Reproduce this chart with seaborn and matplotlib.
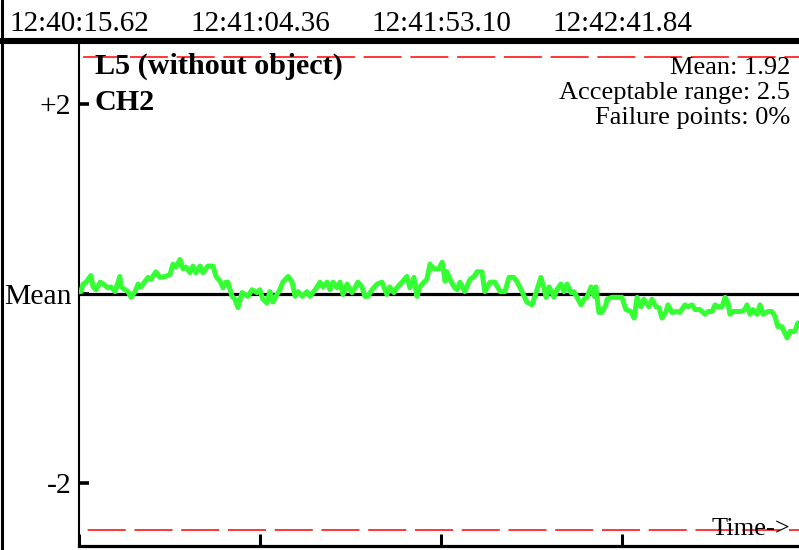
"""
Channel drift plot: deviation of CH2 from its mean over time, with the
acceptable range drawn as red dashed limits.
"""

import matplotlib.pyplot as plt
from matplotlib.lines import Line2D
import seaborn as sns
import pandas as pd

# ---- data (seconds since 12:40:15.62, deviation from mean) ----
times = [
    0.0, 0.5, 1.1, 1.9, 3.2, 3.8, 4.6, 5.7, 6.5, 7.8, 8.6, 9.7, 11.0, 11.3,
    12.4, 13.2, 14.0, 15.1, 15.9, 16.7, 17.8, 18.6, 19.4, 20.7, 21.8, 23.2,
    24.5, 25.3, 26.1, 27.2, 28.0, 28.8, 29.9, 30.7, 31.5, 32.6, 33.4, 34.7,
    36.1, 36.9, 38.0, 38.8, 39.6, 40.1, 41.2, 42.0, 42.8, 43.9, 44.7, 45.5,
    46.6, 47.9, 48.7, 49.5, 50.6, 51.4, 52.2, 53.3, 54.1, 54.9, 56.3, 57.4,
    58.2, 59.0, 60.1, 61.4, 62.2, 63.6, 64.9, 65.7, 66.8, 67.6, 68.4, 69.5,
    70.3, 71.1, 72.2, 73.5, 74.3, 75.1, 76.2, 77.0, 77.8, 78.9, 80.3, 81.6,
    82.9, 83.7, 84.8, 85.6, 87.0, 88.3, 89.1, 90.2, 91.0, 91.8, 92.9, 93.7,
    94.5, 95.6, 96.9, 97.8, 98.6, 99.1, 99.9, 101.0, 101.8, 102.6, 103.9,
    105.3, 106.4, 107.2, 108.5, 109.3, 110.7, 112.0, 113.4, 114.7, 115.8,
    117.1, 117.9, 119.3, 120.6, 122.0, 123.1, 124.4, 125.2, 125.8, 126.6,
    127.4, 127.9, 128.7, 129.8, 130.6, 131.4, 132.5, 133.3, 134.1, 135.2,
    136.0, 136.8, 137.9, 138.7, 139.2, 140.0, 140.8, 141.9, 142.2, 143.5,
    146.2, 147.3, 148.6, 149.5, 150.3, 151.3, 152.1, 153.5, 154.3, 155.4,
    156.2, 157.0, 158.1, 158.6, 159.7, 161.0, 161.8, 163.2, 164.0, 165.1,
    165.9, 167.2, 168.6, 169.4, 170.5, 171.3, 172.1, 173.2, 174.0, 174.8,
    175.3, 176.1, 178.5, 179.3, 179.9, 180.7, 181.5, 182.6, 183.4, 184.2,
    185.5, 186.6, 187.4, 188.2, 189.3, 190.7, 191.5, 192.8, 193.6,
]
deviation = [
    0.02, 0.02, 0.10, 0.12, 0.19, 0.07, 0.04, 0.12, 0.10, 0.06, 0.07, 0.02,
    0.18, 0.07, 0.04, 0.02, -0.04, 0.02, 0.10, 0.07, 0.13, 0.17, 0.15, 0.23,
    0.17, 0.18, 0.20, 0.31, 0.28, 0.36, 0.26, 0.28, 0.22, 0.29, 0.22, 0.29,
    0.22, 0.29, 0.29, 0.18, 0.13, 0.06, 0.12, 0.12, -0.03, -0.06, -0.15, 0.01,
    -0.01, -0.03, 0.04, 0.01, 0.04, -0.06, -0.10, 0.02, -0.09, -0.01, 0.04,
    0.12, 0.18, 0.12, -0.03, 0.02, -0.03, 0.02, -0.03, 0.04, 0.12, 0.07, 0.12,
    0.04, 0.12, 0.06, 0.12, -0.01, 0.10, 0.01, 0.06, 0.12, 0.07, -0.03, -0.03,
    0.04, 0.10, 0.12, -0.01, 0.07, 0.01, 0.06, 0.12, 0.18, 0.06, 0.17, -0.03,
    0.07, 0.12, 0.15, 0.31, 0.26, 0.26, 0.33, 0.13, 0.23, 0.15, 0.07, 0.04,
    0.12, 0.02, 0.15, 0.18, 0.23, 0.23, 0.02, 0.12, 0.12, 0.02, 0.02, 0.17,
    0.17, 0.13, 0.02, -0.09, -0.12, 0.01, 0.17, 0.06, -0.04, 0.07, 0.01, -0.04,
    0.04, 0.10, 0.02, 0.10, 0.01, 0.02, -0.04, -0.12, -0.06, -0.04, 0.07,
    -0.03, 0.07, -0.20, -0.20, -0.12, -0.06, -0.04, -0.04, -0.17, -0.19,
    -0.26, -0.04, -0.14, -0.06, -0.14, -0.06, -0.14, -0.15, -0.26, -0.19,
    -0.12, -0.20, -0.19, -0.20, -0.12, -0.14, -0.12, -0.17, -0.17, -0.22,
    -0.19, -0.19, -0.12, -0.14, -0.14, -0.04, -0.10, -0.22, -0.19, -0.19,
    -0.17, -0.12, -0.22, -0.17, -0.22, -0.12, -0.22, -0.19, -0.19, -0.24,
    -0.35, -0.35, -0.47, -0.40, -0.40, -0.31,
]

tick_times = [0, 48.74, 97.48, 146.22]
tick_stamps = ["12:40:15.62", "12:41:04.36", "12:41:53.10", "12:42:41.84"]
y_ticks = [-2, 0, 2]
y_labels = ["-2", "Mean", "+2"]

mean_value = 1.92
accept_range = 2.5
failure_pct = 0
title = "L5 (without object)"
channel = "CH2"

df = pd.DataFrame({"t": times, "dev": deviation})

sns.set_theme(style="white")
plt.rcParams["font.family"] = ["Liberation Serif", "DejaVu Serif"]
for key in ["text.color", "axes.labelcolor", "xtick.color", "ytick.color"]:
    plt.rcParams[key] = "black"

W, H = 799, 550
fig = plt.figure(figsize=(W / 100, H / 100), dpi=100)
ax = fig.add_axes([79 / W, 4 / H, 720 / W, 501 / H])

# limit lines and mean line
ax.axhline(accept_range, color="red", lw=1.1, linestyle=(27.9, (24.9, 5.7)), zorder=1)
ax.axhline(-accept_range, color="red", lw=1.1, linestyle=(24.9, (24.9, 5.7)), zorder=1)
ax.axhline(0, color="black", lw=2.3, zorder=2)

sns.lineplot(data=df, x="t", y="dev", color="#33ff33", lw=3.6,
             estimator=None, ax=ax, zorder=3)

ax.set_xlim(0, 193.9)
ax.set_ylim(-2.669, 2.627)
ax.set_xlabel("")
ax.set_ylabel("")

# y ticks relative to mean
ax.set_yticks(y_ticks)
ax.set_yticklabels(y_labels)
ax.tick_params(axis="y", direction="in", length=7.5, width=2.6, pad=5.5,
               labelsize=21.3, left=True)
ax.set_xticks(tick_times)
ax.set_xticklabels([])
ax.tick_params(axis="x", direction="in", length=9, width=2.2, bottom=True)

for side in ["top", "right"]:
    ax.spines[side].set_visible(False)
ax.spines["left"].set_linewidth(1.5)
ax.spines["left"].set_color("black")
ax.spines["bottom"].set_linewidth(2.3)
ax.spines["bottom"].set_color("black")

# timestamps along the top
top = ax.secondary_xaxis("top")
top.set_xticks(tick_times)
top.set_xticklabels(tick_stamps)
top.tick_params(length=0, pad=5.5, labelsize=21)
top.spines["top"].set_visible(False)

# annotations
ax.text(0.022, 0.958, title, transform=ax.transAxes, fontsize=21.7,
        fontweight="bold", va="center", ha="left")
ax.text(0.022, 0.886, channel, transform=ax.transAxes, fontsize=21.7,
        fontweight="bold", va="center", ha="left")
info = [f"Mean: {mean_value}", f"Acceptable range: {accept_range}",
        f"Failure points: {failure_pct}%"]
for i, line in enumerate(info):
    ax.text(0.9875, 0.955 - 0.05 * i, line, transform=ax.transAxes,
            fontsize=19, va="center", ha="right")
ax.text(0.9875, 0.034, "Time->", transform=ax.transAxes, fontsize=19,
        va="center", ha="right")

# frame: thick rule under the timestamps and bar on the left edge
fig.add_artist(Line2D([0, 1], [(H - 41) / H] * 2, color="black", lw=4.4,
                      transform=fig.transFigure))
fig.add_artist(Line2D([1.5 / W] * 2, [0, 1], color="black", lw=2.2,
                      transform=fig.transFigure))

fig.savefig("out.png", dpi=100, facecolor="white")
